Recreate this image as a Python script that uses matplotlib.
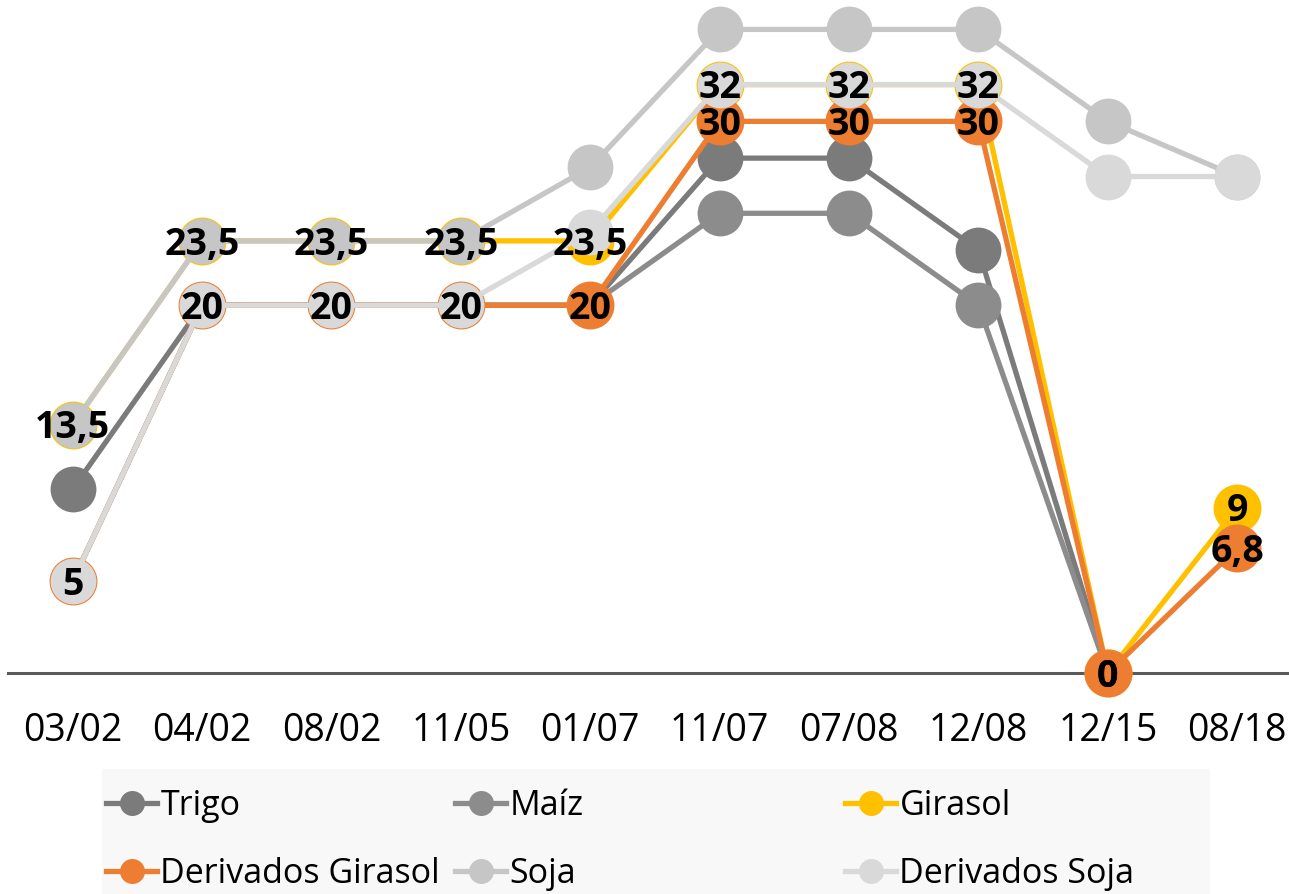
import numpy as np
import matplotlib
matplotlib.use('Agg')
import matplotlib.pyplot as plt
from matplotlib.lines import Line2D
from matplotlib.patches import Rectangle

plt.rcParams['font.family'] = ['Open Sans', 'DejaVu Sans']

# datos
fechas = ['03/02', '04/02', '08/02', '11/05', '01/07', '11/07', '07/08', '12/08', '12/15', '08/18']
trigo = [10, 20, 20, 20, 20, 28, 28, 23, 0, np.nan]
maiz = [5, 20, 20, 20, 20, 25, 25, 20, 0, np.nan]
girasol = [13.5, 23.5, 23.5, 23.5, 23.5, 32, 32, 32, 0, 9]
der_girasol = [5, 20, 20, 20, 20, 30, 30, 30, 0, 6.8]
soja = [13.5, 23.5, 23.5, 23.5, 27.5, 35, 35, 35, 30, 27]
der_soja = [5, 20, 20, 20, 24, 32, 32, 32, 27, 27]

nombres = ['Trigo', 'Maíz', 'Girasol', 'Derivados Girasol', 'Soja', 'Derivados Soja']
colores = ['#7b7b7b', '#8c8c8c', '#ffc000', '#ed7d31', '#c6c6c6', '#d9d9d9']
series = [trigo, maiz, girasol, der_girasol, soja, der_soja]

fig = plt.figure(figsize=(12.89, 8.94), dpi=100)
ax = fig.add_axes([8 / 1289, 1 - 673 / 894, 1 - 8 / 1289, 673 / 894])

x = np.arange(len(fechas))
for i, (nom, col, vals) in enumerate(zip(nombres, colores, series)):
    # las series de girasol llevan borde, se ve un anillo bajo las de soja
    mew = 1.5 if nom in ('Girasol', 'Derivados Girasol') else 0
    ax.plot(x, vals, color=col, lw=3.8, marker='o', ms=33, mfc=col, mec=col,
            mew=mew, zorder=2 + i, clip_on=False, solid_capstyle='round')


def fmt(v):
    return f'{v:g}'.replace('.', ',')


# etiquetas de datos (solo girasol y derivados)
for vals in (girasol, der_girasol):
    for xi, v in zip(x, vals):
        if np.isnan(v):
            continue
        ax.text(xi, v - 0.2, fmt(v), ha='center', va='center', fontsize=27,
                fontweight='bold', color='black', zorder=20)

ax.set_xlim(-0.5, 9.4)
ax.set_ylim(0, 36.6)
ax.set_xticks(x)
ax.set_xticklabels(fechas, fontsize=27)
ax.set_yticks([])
ax.tick_params(axis='x', length=0, pad=28)
for s in ('top', 'right', 'left'):
    ax.spines[s].set_visible(False)
ax.spines['bottom'].set_color('#595959')
ax.spines['bottom'].set_linewidth(2.2)
ax.spines['bottom'].set_zorder(1)

# leyenda
fig.patches.append(Rectangle((102 / 1289, 0), (1210 - 102) / 1289, 125 / 894,
                             transform=fig.transFigure, facecolor='#f8f8f8',
                             edgecolor='none', zorder=0))
handles = [Line2D([], [], color=c, lw=3.8, marker='o', ms=18, mew=0) for c in colores]
columnas = [(0, 3), (1, 4), (2, 5)]
xs = [106, 455, 845]
for (a, b), xp in zip(columnas, xs):
    leg = fig.legend([handles[a], handles[b]], [nombres[a], nombres[b]],
                     loc='upper left', bbox_to_anchor=(xp / 1289, 1 - 789 / 894),
                     frameon=False, fontsize=24.5, handlelength=1.5, handletextpad=0.1,
                     borderpad=0, borderaxespad=0, labelspacing=1.0)

fig.savefig('out.png', dpi=100)
